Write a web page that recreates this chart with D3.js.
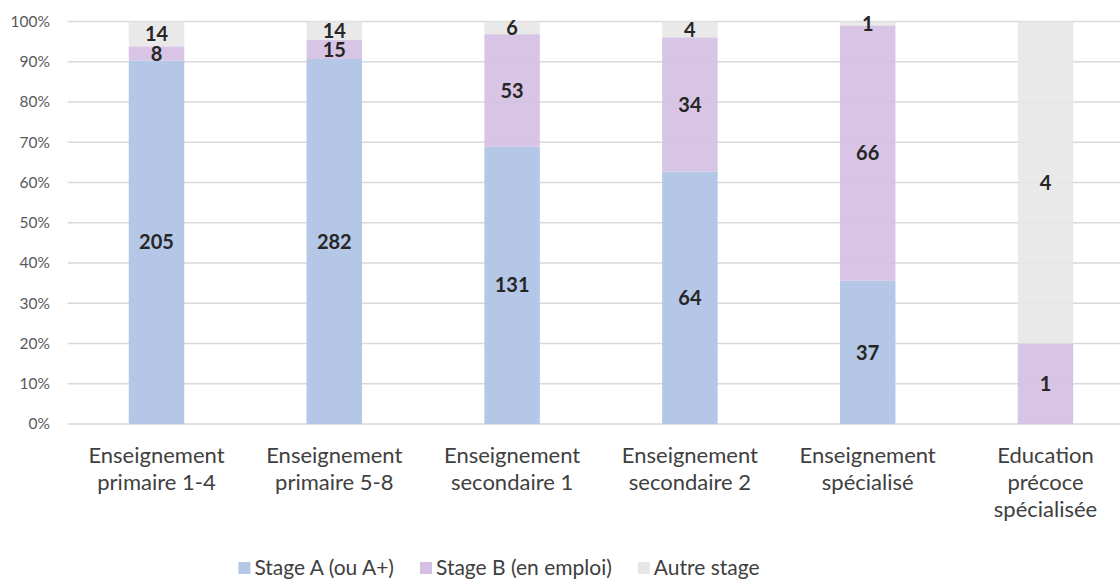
<!DOCTYPE html>
<html>
<head>
<meta charset="utf-8">
<script src="https://cdn.jsdelivr.net/npm/d3@7"></script>
<style>
  body { margin: 0; background: #fff; }
  svg text { font-family: Lato, "Open Sans", sans-serif; }
</style>
</head>
<body>
<svg id="chart" width="1120" height="580"></svg>
<script>
var categories = [
    ["Enseignement", "primaire 1-4"],
    ["Enseignement", "primaire 5-8"],
    ["Enseignement", "secondaire 1"],
    ["Enseignement", "secondaire 2"],
    ["Enseignement", "spécialisé"],
    ["Education", "précoce", "spécialisée"]
];
var stageA = [205, 282, 131, 64, 37, 0];
var stageB = [8, 15, 53, 34, 66, 1];
var autre = [14, 14, 6, 4, 1, 4];
var seriesNames = ["Stage A (ou A+)", "Stage B (en emploi)", "Autre stage"];
var yTicks = [0, 0.1, 0.2, 0.3, 0.4, 0.5, 0.6, 0.7, 0.8, 0.9, 1];

var colors = ["#b4c7e7", "#d5c0e3", "#e7e7e7"],
    opac = [1, 0.92, 0.9];

var svg = d3.select("#chart");
var margins = {left: 67.6, top: 21.5, bottom: 424},
    plotRight = 1120;

var rows = categories.map(function(c, i) {
    return {i: i, a: stageA[i], b: stageB[i], c: autre[i], total: stageA[i] + stageB[i] + autre[i]};
});

var keys = ["a", "b", "c"];
var stack = d3.stack()
    .keys(keys)
    .value(function(d, k) { return d[k] / d.total; });
var series = stack(rows);

var x = d3.scaleBand()
    .domain(d3.range(categories.length))
    .range([margins.left, margins.left + 6 * 177.8])
    .padding(0);
var barW = x.bandwidth() * 0.312;

var y = d3.scaleLinear()
    .domain([0, 1])
    .range([margins.bottom, margins.top]);

// gridlines
svg.append("g").selectAll("line")
    .data(yTicks)
    .enter().append("line")
    .attr("x1", margins.left)
    .attr("x2", plotRight)
    .attr("y1", function(d) { return y(d); })
    .attr("y2", function(d) { return y(d); })
    .attr("stroke", "#d9d9d9")
    .attr("stroke-width", 1.4);

// y tick labels
var yAxis = d3.axisLeft(y)
    .tickValues(yTicks)
    .tickFormat(d3.format(".0%"))
    .tickSize(0)
    .tickPadding(0);
var gy = svg.append("g")
    .attr("transform", "translate(50,0)")
    .call(yAxis);
gy.select(".domain").remove();
gy.selectAll("text")
    .attr("fill", "#595959")
    .style("font-size", "15.5px")
    .style("font-family", "Lato, sans-serif");

// bars
var groups = svg.append("g").selectAll("g")
    .data(series)
    .enter().append("g")
    .attr("fill", function(d, i) { return colors[i]; })
    .attr("fill-opacity", function(d, i) { return opac[i]; });

groups.selectAll("rect")
    .data(function(d) { return d; })
    .enter().append("rect")
    .attr("x", function(d) { return x(d.data.i) + (x.bandwidth() - barW) / 2; })
    .attr("width", barW)
    .attr("y", function(d) { return y(d[1]); })
    .attr("height", function(d) { return y(d[0]) - y(d[1]); });

// data labels
series.forEach(function(s) {
    svg.append("g").selectAll("text")
        .data(s.filter(function(d) { return d.data[s.key] > 0; }))
        .enter().append("text")
        .attr("x", function(d) { return x(d.data.i) + x.bandwidth() / 2; })
        .attr("y", function(d) { return y((d[0] + d[1]) / 2); })
        .attr("dy", "0.36em")
        .attr("text-anchor", "middle")
        .attr("fill", "#262626")
        .style("font-size", "20px")
        .style("font-weight", "bold")
        .text(function(d) { return d.data[s.key]; });
});

// category labels
var cat = svg.append("g").selectAll("text")
    .data(categories)
    .enter().append("text")
    .attr("x", function(d, i) { return x(i) + x.bandwidth() / 2; })
    .attr("y", 463)
    .attr("text-anchor", "middle")
    .attr("fill", "#404040")
    .style("font-size", "22px");
cat.selectAll("tspan")
    .data(function(d) { return d; })
    .enter().append("tspan")
    .attr("x", function() { return d3.select(this.parentNode).attr("x"); })
    .attr("dy", function(d, j) { return j === 0 ? 0 : 27; })
    .text(function(d) { return d; });

// legend, laid out from measured text widths and centred
var legend = svg.append("g");
var items = legend.selectAll("g")
    .data(seriesNames)
    .enter().append("g");
items.append("rect")
    .attr("y", 562)
    .attr("width", 12)
    .attr("height", 12)
    .attr("fill", function(d, i) { return colors[i]; });
items.append("text")
    .attr("x", 16)
    .attr("y", 575)
    .attr("fill", "#404040")
    .style("font-size", "21px")
    .text(function(d) { return d; });

var pos = 0, offsets = [];
items.each(function() {
    offsets.push(pos);
    pos += 16 + d3.select(this).select("text").node().getComputedTextLength() + 26;
});
var total = pos - 26,
    start = 499 - total / 2;
items.attr("transform", function(d, i) { return "translate(" + (start + offsets[i]) + ",0)"; });
</script>
</body>
</html>
